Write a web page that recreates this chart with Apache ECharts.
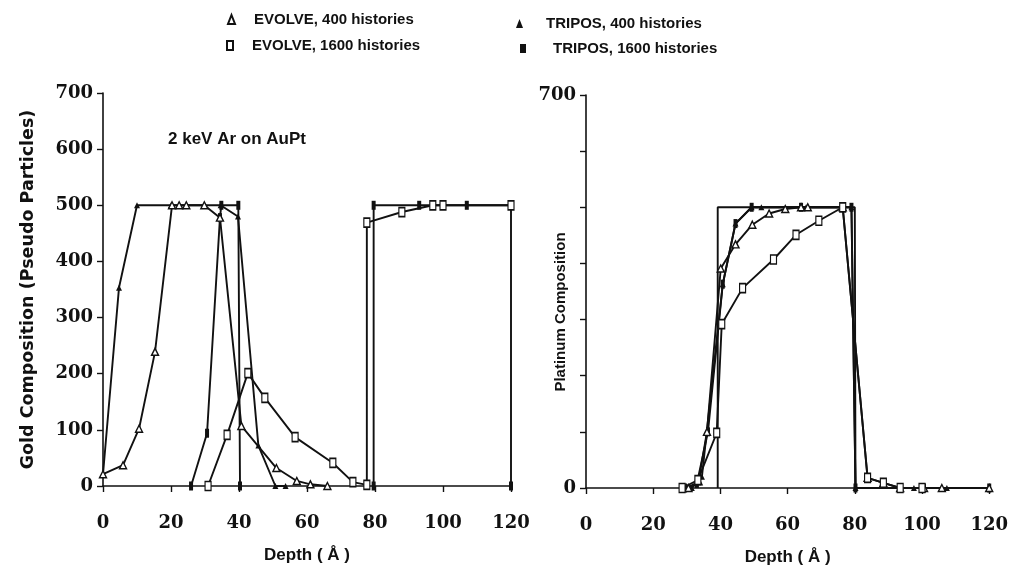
<!DOCTYPE html>
<html><head><meta charset="utf-8">
<script src="https://cdn.jsdelivr.net/npm/echarts@6/dist/echarts.min.js"></script>
<style>html,body{margin:0;padding:0;background:#fff}#c{width:1011px;height:575px}</style>
</head><body><div id="c"></div>
<script>
// ---------- data ----------
const xTicks = [0, 20, 40, 60, 80, 100, 120];
const yTicks = [0, 100, 200, 300, 400, 500, 600, 700];
const seriesNames = ['EVOLVE, 400 histories', 'EVOLVE, 1600 histories', 'TRIPOS, 400 histories', 'TRIPOS, 1600 histories'];

// Gold composition (left panel) [depth Å, pseudo particles]
const goldEvolve400 = [[0,21],[5.9,37],[10.6,102],[15.3,239],[20.3,500],[22.4,500],[24.5,500],[29.8,500],[34.4,478],[40.7,107],[51,32],[57,9],[61,3],[66,0]];
const goldTripos400 = [[0,21],[4.7,353],[10,500],[20,500],[29.8,500],[34.6,500],[39.7,480],[45.7,72],[50.7,0],[53.7,0]];
const goldEvolve1600 = [[30.9,0],[36.5,91],[42.6,201],[47.6,157],[56.5,87],[67.6,41],[73.5,7],[77.6,2],[77.6,469],[87.9,488],[97,500],[100,500],[120,500]];
const goldTripos1600a = [[25.9,0],[30.6,94],[34.4,478],[34.8,500],[39.8,500],[40.3,0]];
const goldTripos1600b = [[79.6,0],[79.6,500],[93,500],[107,500],[120,500],[120,0]];

// Platinum composition (right panel)
const platEvolve400 = [[30.5,0],[33.5,12],[36,100],[40.1,391],[44.5,434],[49.5,469],[54.5,489],[59.3,497],[64,500],[66,500],[76.4,500],[83.8,18],[88.5,9],[93.5,0],[100.6,0],[105.9,0],[120,0]];
const platTripos400 = [[31.5,0],[34.5,20],[40.7,363],[44.5,471],[49.3,500],[52.2,500],[65.5,500],[79,500],[80.2,0],[97.6,0],[107.4,0],[120,0]];
const platEvolve1600 = [[28.6,0],[33.3,14],[38.9,98],[40.4,292],[46.6,356],[55.8,407],[62.5,451],[69.3,476],[76.4,500],[83.8,18],[88.5,9],[93.5,0],[100,0]];
const platTripos1600 = [[29.5,0],[33,8],[36.3,100],[40.7,363],[44.5,471],[49.3,500],[64,500],[79,500],[80.2,0],[100.6,0],[120,0]];
const platStep = [[39.2,0],[39.2,500],[80,500],[80.2,0]];

// ---------- styles ----------
const INK = '#111';
const styles = {
  'EVOLVE, 400 histories': {symbol: 'triangle', symbolSize: 7, itemStyle: {color: '#fff', borderColor: INK, borderWidth: 1.4}},
  'EVOLVE, 1600 histories': {symbol: 'rect', symbolSize: [6, 9], itemStyle: {color: '#fff', borderColor: INK, borderWidth: 1.4}},
  'TRIPOS, 400 histories': {symbol: 'triangle', symbolSize: 6, itemStyle: {color: INK, borderColor: INK, borderWidth: 0}},
  'TRIPOS, 1600 histories': {symbol: 'rect', symbolSize: [4, 9], itemStyle: {color: INK, borderColor: INK, borderWidth: 0}}
};
function line(name, data, idx) {
  const s = styles[name];
  return {
    type: 'line', name: name, data: data, xAxisIndex: idx, yAxisIndex: idx,
    symbol: s.symbol, symbolSize: s.symbolSize, showSymbol: true, itemStyle: s.itemStyle,
    lineStyle: {color: INK, width: 1.9}, animation: false, z: name.startsWith('EVOLVE') ? 3 : 2
  };
}

const tickFont = {fontFamily: 'DejaVu Serif', fontWeight: 'bold', fontSize: 18, color: INK};

function xAxis(idx) {
  return {
    type: 'value', gridIndex: idx, min: 0, max: 120, interval: 20,
    name: 'Depth ( Å )', nameLocation: 'middle', nameGap: 61,
    nameTextStyle: {fontFamily: 'Liberation Sans', fontWeight: 'bold', fontSize: 17, color: INK},
    axisLine: {onZero: false, lineStyle: {color: INK, width: 1.6}},
    axisTick: {show: true, length: 6, lineStyle: {color: INK, width: 1.4}},
    axisLabel: {margin: 28, ...tickFont},
    splitLine: {show: false}
  };
}
function yAxis(idx, name, gap, fmt, nameFont) {
  return {
    type: 'value', gridIndex: idx, min: 0, max: 700, interval: 100,
    name: name, nameLocation: 'middle', nameGap: gap, nameTextStyle: nameFont,
    axisLine: {show: true, lineStyle: {color: INK, width: 1.6}},
    axisTick: {show: true, length: 6, lineStyle: {color: INK, width: 1.4}},
    axisLabel: {margin: 10, formatter: fmt, ...tickFont},
    splitLine: {show: false}
  };
}

const legendPos = [
  {left: 227, top: 12}, {left: 226, top: 38}, {left: 516, top: 16}, {left: 520, top: 41}
];
const legendText = [14, 14, 18, 22];
const legends = seriesNames.map((n, i) => ({
  data: [n], left: legendPos[i].left, top: legendPos[i].top, padding: 0,
  icon: styles[n].symbol, itemWidth: i % 2 === 0 ? 7 : 6, itemHeight: 9,
  selectedMode: false,
  textStyle: {fontFamily: 'Liberation Sans', fontWeight: 'bold', fontSize: 15, color: INK, padding: [0, 0, 0, legendText[i]]}
}));

const chart = echarts.init(document.getElementById('c'), null, {renderer: 'canvas'});
chart.setOption({
  backgroundColor: '#fff',
  animation: false,
  legend: legends,
  grid: [
    {left: 103, top: 93, width: 408, height: 393},
    {left: 586, top: 95, width: 407, height: 393}
  ],
  xAxis: [xAxis(0), xAxis(1)],
  yAxis: [
    yAxis(0, 'Gold Composition (Pseudo Particles)', 66, v => String(v),
      {fontFamily: 'DejaVu Sans', fontWeight: 'bold', fontSize: 17.5, color: INK}),
    yAxis(1, '', 20, v => (v === 0 || v === 700) ? String(v) : '', {})
  ],
  graphic: [
    {type: 'text', left: 168, top: 131, style: {text: '2 keV Ar on AuPt', fontFamily: 'Liberation Sans', fontWeight: 'bold', fontSize: 17, fill: INK}},
    {type: 'text', x: 561, y: 312, rotation: Math.PI / 2,
     style: {text: 'Platinum Composition', fontFamily: 'Liberation Sans', fontWeight: 'bold', fontSize: 15, fill: INK, align: 'center', verticalAlign: 'middle'}}
  ],
  series: [
    line(seriesNames[0], goldEvolve400, 0),
    line(seriesNames[1], goldEvolve1600, 0),
    line(seriesNames[2], goldTripos400, 0),
    line(seriesNames[3], goldTripos1600a, 0),
    line(seriesNames[3], goldTripos1600b, 0),
    line(seriesNames[0], platEvolve400, 1),
    line(seriesNames[1], platEvolve1600, 1),
    line(seriesNames[2], platTripos400, 1),
    line(seriesNames[3], platTripos1600, 1),
    {type: 'line', name: 'initial', data: platStep, xAxisIndex: 1, yAxisIndex: 1, showSymbol: false, symbol: 'none',
     lineStyle: {color: INK, width: 1.9}, animation: false, z: 1}
  ]
});
</script>
</body></html>
